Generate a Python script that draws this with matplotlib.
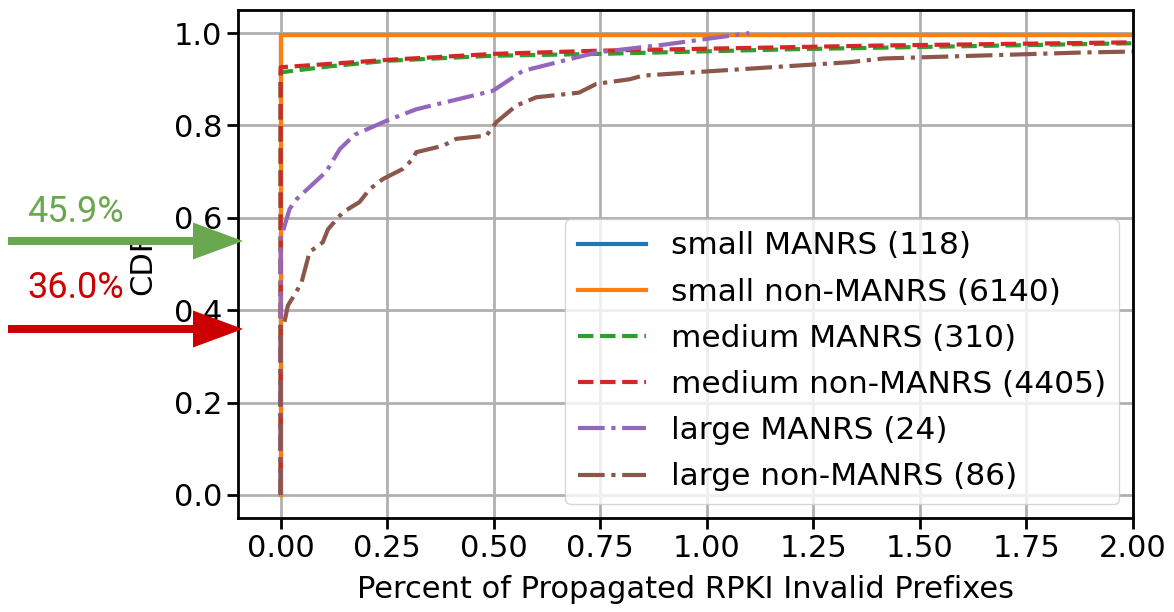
import matplotlib
matplotlib.use("Agg")
import matplotlib.pyplot as plt
from matplotlib.patches import FancyArrow
from matplotlib.transforms import IdentityTransform

# values
labels = [
    "small MANRS (118)",
    "small non-MANRS (6140)",
    "medium MANRS (310)",
    "medium non-MANRS (4405)",
    "large MANRS (24)",
    "large non-MANRS (86)",
]

small_manrs_x = [0.0, 0.0, 2.0]
small_manrs_y = [0.0, 0.995, 0.995]

small_non_x = [0.0, 0.0, 2.0]
small_non_y = [0.0, 0.995, 0.995]

medium_manrs_x = [0.0, 0.0, 0.115, 0.25, 0.5, 0.75, 1.2, 2.0]
medium_manrs_y = [0.0, 0.915, 0.928, 0.94, 0.951, 0.955, 0.965, 0.978]

medium_non_x = [0.0, 0.0, 0.25, 0.5, 0.75, 1.4, 2.0]
medium_non_y = [0.0, 0.926, 0.942, 0.955, 0.962, 0.973, 0.98]

large_manrs_x = [0.0, 0.0, 0.0, 0.021, 0.037, 0.107, 0.139, 0.174, 0.248,
                 0.318, 0.498, 0.568, 0.741, 0.9, 1.1]
large_manrs_y = [0.0, 0.375, 0.554, 0.619, 0.64, 0.70, 0.749, 0.78, 0.81,
                 0.835, 0.875, 0.918, 0.958, 0.975, 1.0]

large_non_x = [0.0, 0.0, 0.008, 0.017, 0.037, 0.049, 0.068, 0.099, 0.111,
               0.146, 0.185, 0.209, 0.24, 0.287, 0.31, 0.318, 0.381, 0.412,
               0.483, 0.506, 0.553, 0.60, 0.70, 0.741, 0.819, 0.85, 1.218,
               1.336, 1.414, 1.883, 2.0]
large_non_y = [0.0, 0.37, 0.37, 0.41, 0.44, 0.46, 0.526, 0.547, 0.575,
               0.612, 0.634, 0.662, 0.684, 0.706, 0.727, 0.742, 0.756, 0.771,
               0.778, 0.807, 0.843, 0.861, 0.871, 0.89, 0.90, 0.908, 0.93,
               0.937, 0.945, 0.958, 0.96]

series = [
    (small_manrs_x, small_manrs_y, "#1f77b4", "-"),
    (small_non_x, small_non_y, "#ff7f0e", "-"),
    (medium_manrs_x, medium_manrs_y, "#2ca02c", "--"),
    (medium_non_x, medium_non_y, "#d62728", "--"),
    (large_manrs_x, large_manrs_y, "#9467bd", "-."),
    (large_non_x, large_non_y, "#8c564b", "-."),
]

fig = plt.figure(figsize=(11.74, 6.12), dpi=100)
ax = fig.add_axes([238 / 1174, 1 - 518 / 612, (1133 - 238) / 1174, (518 - 10) / 612])

for (xs, ys, color, ls), lab in zip(series, labels):
    ax.plot(xs, ys, color=color, linestyle=ls, linewidth=3, label=lab)

ax.set_xlim(-0.1, 2.0)
ax.set_ylim(-0.05, 1.05)
ax.set_xticks([0, 0.25, 0.5, 0.75, 1.0, 1.25, 1.5, 1.75, 2.0])
ax.set_yticks([0, 0.2, 0.4, 0.6, 0.8, 1.0])
ax.grid(True, color="#b0b0b0", linewidth=2)
ax.set_axisbelow(True)
ax.tick_params(labelsize=22, width=2, length=8)
for s in ax.spines.values():
    s.set_linewidth(2)
ax.set_xlabel("Percent of Propagated RPKI Invalid Prefixes", fontsize=22, labelpad=9)
ax.set_ylabel("CDF", fontsize=22, labelpad=12)
ax.legend(loc="lower right", fontsize=22.5, handlelength=2.2, labelspacing=0.55,
          borderaxespad=0.45)

# slide annotations drawn on top (pixel coordinates, origin bottom-left)
H = 612
for ytop, color, text, ytxt in [(241, "#6aa84f", "45.9%", 212), (329, "#cc0000", "36.0%", 288)]:
    fig.add_artist(FancyArrow(8, H - ytop, 235, 0, width=8, head_width=37, head_length=50,
                              length_includes_head=True, color=color, linewidth=0,
                              transform=IdentityTransform()))
    fig.text(27 / 1174, 1 - ytxt / H, text, color=color, fontsize=26, family="Roboto",
             ha="left", va="center")

fig.savefig("out.png", dpi=100)
